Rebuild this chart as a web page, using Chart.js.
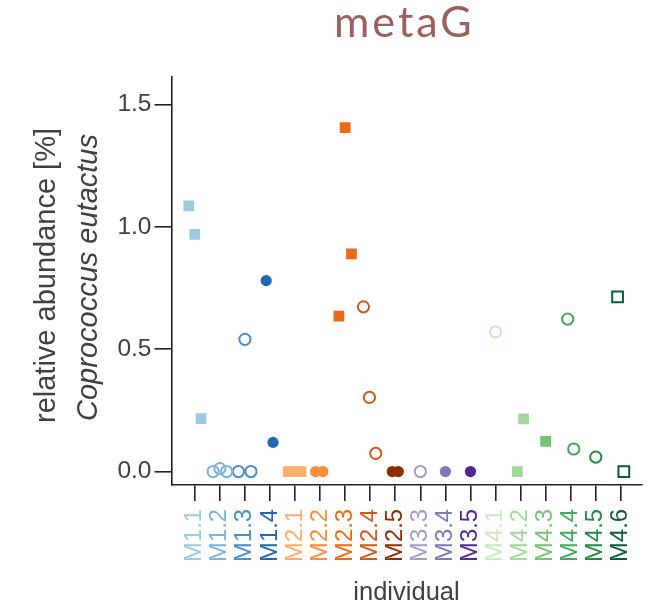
<!DOCTYPE html>
<html>
<head>
<meta charset="utf-8">
<script src="https://cdn.jsdelivr.net/npm/chart.js@4"></script>
<style>
  html, body { margin: 0; padding: 0; background: #ffffff; }
  #wrap { width: 658px; height: 606px; position: relative; }
</style>
</head>
<body>
<div id="wrap"><canvas id="chart"></canvas></div>
<script>
// Individuals on the x axis
const categories = ['M1.1', 'M1.2', 'M1.3', 'M1.4', 'M2.1', 'M2.2', 'M2.3', 'M2.4', 'M2.5',
                    'M3.3', 'M3.4', 'M3.5', 'M4.1', 'M4.2', 'M4.3', 'M4.4', 'M4.5', 'M4.6'];

// Colour of each individual (points and tick label)
const colors = ['#9ecae1', '#7fb2d8', '#4a8fc4', '#2368ac', '#fdae6b', '#fd8d3c', '#ec6a17', '#cf5a1f', '#8c2d04',
                '#a29ecb', '#7f79b8', '#54278f', '#c7e9c0', '#a1d99b', '#74c476', '#41ab5d', '#238b45', '#0f5a3a'];

// Marker shape and fill of each individual
const markers = ['rect', 'circle', 'circle', 'circle', 'rect', 'circle', 'rect', 'circle', 'circle',
                 'circle', 'circle', 'circle', 'circle', 'rect', 'rect', 'circle', 'circle', 'rect'];
const filled = [true, false, false, true, true, true, true, false, true,
                false, true, true, false, true, true, false, false, false];

// Relative abundance [%] of Coprococcus eutactus, one list per individual
const abundance = [
  [1.085, 0.969, 0.216],   // M1.1
  [0, 0.012, 0],           // M1.2
  [0.540, 0, 0],           // M1.3
  [0.780, 0.119],          // M1.4
  [0, 0, 0],               // M2.1
  [0, 0],                  // M2.2
  [1.405, 0.889, 0.635],   // M2.3
  [0.673, 0.303, 0.074],   // M2.4
  [0, 0],                  // M2.5
  [0],                     // M3.3
  [0],                     // M3.4
  [0],                     // M3.5
  [0.571],                 // M4.1
  [0.215, 0],              // M4.2
  [0.123],                 // M4.3
  [0.623, 0.092],          // M4.4
  [0.059],                 // M4.5
  [0.714, 0]               // M4.6
];

// Horizontal jitter of each sample around its individual (category units)
const jitter = [
  [-0.24, 0, 0.25],
  [-0.27, 0, 0.27],
  [0, -0.26, 0.24],
  [-0.15, 0.12],
  [-0.27, 0, 0.24],
  [-0.18, 0.11],
  [0, 0.25, -0.25],
  [-0.27, -0.03, 0.22],
  [-0.12, 0.12],
  [0],
  [0],
  [0],
  [0],
  [0.12, -0.13],
  [0],
  [-0.12, 0.12],
  [0],
  [-0.13, 0.12]
];

const yTicks = [0.0, 0.5, 1.0, 1.5];

const AXIS = '#222222';
const TEXT = '#404040';
const FONT = '"Liberation Sans", Arial, sans-serif';

const datasets = categories.map((name, i) => ({
  label: name,
  data: abundance[i].map((v, k) => ({ x: i + jitter[i][k], y: v })),
  pointStyle: markers[i],
  pointRadius: markers[i] === 'rect' ? 7.6 : 5.6,
  pointHoverRadius: markers[i] === 'rect' ? 7.6 : 5.6,
  backgroundColor: filled[i] ? colors[i] : 'rgba(0,0,0,0)',
  borderColor: colors[i],
  borderWidth: filled[i] ? 0 : 2,
  showLine: false
}));

// Title and axis titles
const annotations = {
  id: 'annotations',
  afterDraw(chart) {
    const ctx = chart.ctx;
    ctx.save();
    ctx.fillStyle = '#9b5f5f';
    ctx.font = '400 43px Lato';
    ctx.letterSpacing = '3px';
    ctx.textAlign = 'left';
    ctx.textBaseline = 'alphabetic';
    ctx.fillText('metaG', 334, 37);
    ctx.letterSpacing = '0px';

    ctx.fillStyle = TEXT;
    ctx.textAlign = 'center';
    ctx.font = '25.5px ' + FONT;
    ctx.fillText('individual', 406.5, 600);

    ctx.save();
    ctx.translate(55, 275.5);
    ctx.rotate(-Math.PI / 2);
    ctx.font = '29px ' + FONT;
    ctx.fillText('relative abundance [%]', 0, 0);
    ctx.restore();

    ctx.save();
    ctx.translate(97, 277.5);
    ctx.rotate(-Math.PI / 2);
    ctx.font = 'italic 29px ' + FONT;
    ctx.fillText('Coprococcus eutactus', 0, 0);
    ctx.restore();

    ctx.restore();
  }
};

new Chart(document.getElementById('chart'), {
  type: 'scatter',
  data: { datasets },
  options: {
    responsive: true,
    maintainAspectRatio: false,
    animation: false,
    layout: { padding: { top: 77, right: 14, bottom: 0, left: 0 } },
    plugins: {
      legend: { display: false },
      tooltip: { enabled: false },
      title: { display: false }
    },
    scales: {
      x: {
        type: 'linear',
        min: -0.93,
        max: 17.82,
        afterBuildTicks: (scale) => { scale.ticks = categories.map((_, i) => ({ value: i })); },
        afterFit: (scale) => { scale.height = 121; },
        ticks: {
          autoSkip: false,
          minRotation: 90,
          maxRotation: 90,
          padding: 8,
          font: { family: FONT, size: 23.8 },
          color: (c) => colors[c.index],
          callback: (v) => categories[v]
        },
        grid: { drawOnChartArea: false, drawTicks: true, tickLength: 16, color: AXIS, lineWidth: 1.6 },
        border: { display: true, color: AXIS, width: 1.6 }
      },
      y: {
        type: 'linear',
        min: -0.055,
        max: 1.612,
        afterBuildTicks: (scale) => { scale.ticks = yTicks.map((v) => ({ value: v })); },
        afterFit: (scale) => { scale.width = 171.5; },
        ticks: {
          padding: 3,
          font: { family: FONT, size: 24.5 },
          color: TEXT,
          callback: (v) => Number(v).toFixed(1)
        },
        grid: { drawOnChartArea: false, drawTicks: true, tickLength: 17, color: AXIS, lineWidth: 1.6 },
        border: { display: true, color: AXIS, width: 1.6 }
      }
    }
  },
  plugins: [annotations]
});
</script>
</body>
</html>
